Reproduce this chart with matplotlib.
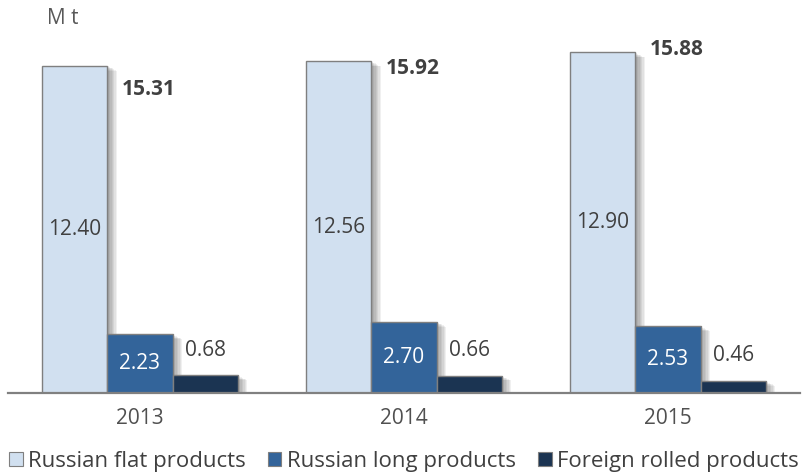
import numpy as np
import matplotlib.pyplot as plt
from matplotlib import patheffects as pe
from matplotlib.patches import Patch

plt.rcParams['font.family'] = ['Open Sans', 'DejaVu Sans']

years = ['2013', '2014', '2015']
flat = [12.40, 12.56, 12.90]
long_prod = [2.23, 2.70, 2.53]
foreign = [0.68, 0.66, 0.46]
totals = [15.31, 15.92, 15.88]
series_names = ['Russian flat products', 'Russian long products', 'Foreign rolled products']

# vertical nudge (points) of each total label relative to the top of the flat bar
total_dy = [-17, -5, 2]

c_flat = '#D1E0F0'
c_long = '#33649A'
c_foreign = '#1B3452'
c_edge = '#7F7F7F'
c_text = '#404040'

# soft drop shadow built from several offset, faint copies
shadow = [pe.SimplePatchShadow(offset=(k, -0.5 * k), shadow_rgbFace='black', alpha=0.06)
          for k in (1, 2, 3, 4, 5, 6, 7)] + [pe.Normal()]

fig = plt.figure(figsize=(8.08, 4.76), dpi=100)
ax = fig.add_axes([8 / 808, 1 - 393 / 476, 792 / 808, 369.6 / 476])

x = np.arange(len(years))
w = 0.2467

b_flat = ax.bar(x - w, flat, w, color=c_flat, edgecolor=c_edge, linewidth=1.0)
b_long = ax.bar(x, long_prod, w, color=c_long, edgecolor=c_edge, linewidth=1.0)
b_for = ax.bar(x + w, foreign, w, color=c_foreign, edgecolor=c_edge, linewidth=1.0)
for bars in (b_flat, b_long, b_for):
    for r in bars:
        r.set_path_effects(shadow)

fs = 15
for i in range(len(years)):
    ax.text(x[i] - w, flat[i] / 2, f'{flat[i]:.2f}', ha='center', va='center',
            fontsize=fs, color=c_text)
    ax.text(x[i], long_prod[i] / 2, f'{long_prod[i]:.2f}', ha='center', va='center',
            fontsize=fs, color='white')
    ax.annotate(f'{foreign[i]:.2f}', (x[i] + w, foreign[i]), xytext=(0, 18),
                textcoords='offset points', ha='center', va='center',
                fontsize=fs, color=c_text)
    ax.annotate(f'{totals[i]:.2f}', (x[i] - w / 2, flat[i]), xytext=(10, total_dy[i]),
                textcoords='offset points', ha='left', va='center',
                fontsize=fs, fontweight='bold', color=c_text)

ax.set_xlim(-0.5, 2.5)
ax.set_ylim(0, 14)
for s in ('top', 'left', 'right'):
    ax.spines[s].set_visible(False)
ax.spines['bottom'].set_color('#808080')
ax.spines['bottom'].set_linewidth(1.6)
ax.spines['bottom'].set_zorder(5)
ax.set_yticks([])
ax.set_xticks(x)
ax.set_xticklabels(years, fontsize=fs, color='#505050')
ax.tick_params(axis='x', length=0, pad=11)

fig.text(47 / 808, 1 - 19 / 476, 'M t', ha='left', va='center', fontsize=fs, color='#595959')

handles = [Patch(facecolor=c, edgecolor=c_edge, linewidth=0.8)
           for c in (c_flat, c_long, c_foreign)]
fig.legend(handles, series_names, loc='center', bbox_to_anchor=(0.5, 1 - 461 / 476),
           ncol=3, frameon=False, fontsize=16, handlelength=0.6, handleheight=0.6,
           handletextpad=0.25, columnspacing=1.0, labelcolor=c_text,
           borderpad=0, borderaxespad=0)

fig.savefig('out.png', dpi=100)
